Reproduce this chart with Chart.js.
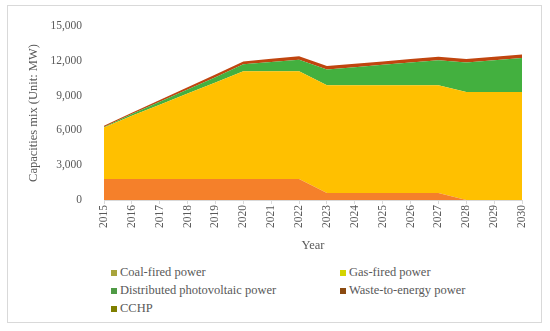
<!DOCTYPE html>
<html>
<head>
<meta charset="utf-8">
<script src="https://cdn.jsdelivr.net/npm/chart.js@4/dist/chart.umd.min.js"></script>
<style>
  html, body { margin: 0; padding: 0; background: #fff; }
  body { width: 550px; height: 331px; position: relative; overflow: hidden; font-family: "Liberation Serif", serif; }
  .frame { position: absolute; left: 7px; top: 5px; width: 533px; height: 316px; border: 1px solid #d9d9d9; }
  #wrap { position: absolute; left: 0; top: 0; width: 550px; height: 260px; }
  #legend { position: absolute; left: 111px; top: 265px; width: 420px; display: grid;
    grid-template-columns: 229px 190px; row-gap: 3px; font-size: 12.5px; color: #595959; }
  #legend div { display: flex; align-items: center; height: 15px; white-space: nowrap; }
  #legend span.box { width: 6px; height: 6px; margin-right: 3px; display: inline-block; }
</style>
</head>
<body>
<div class="frame"></div>
<div id="wrap"><canvas id="chart"></canvas></div>
<div id="legend"></div>
<script>
  // Data (MW)
  const years = ['2015','2016','2017','2018','2019','2020','2021','2022','2023','2024','2025','2026','2027','2028','2029','2030'];
  const coal  = [1800,1800,1800,1800,1800,1800,1800,1800,600,600,600,600,600,0,0,0];
  const gas   = [4450,5460,6420,7380,8340,9300,9300,9300,9300,9300,9300,9300,9300,9300,9300,9300];
  const pv    = [50,150,250,350,450,600,800,1000,1350,1550,1750,1950,2150,2550,2750,2950];
  const waste = [100,120,150,180,220,250,280,300,300,300,300,300,300,300,300,300];
  const cchp  = [0,0,0,0,0,0,0,0,0,0,0,0,0,0,0,0];
  const seriesNames = ['Coal-fired power','Gas-fired power','Distributed photovoltaic power','Waste-to-energy power','CCHP'];
  const fillColors  = ['#f5802a','#ffc000','#43b03f','#c0450f','#7f7f00'];
  const legendColors = ['#a8a43c','#d4d400','#4f9a45','#8b4a10','#7f7f00'];
  const yTicks = [0,3000,6000,9000,12000,15000];

  const values = [coal, gas, pv, waste, cchp];
  const datasets = values.map((d, i) => ({
    label: seriesNames[i],
    data: d,
    backgroundColor: fillColors[i],
    borderWidth: 0,
    pointRadius: 0,
    fill: i === 0 ? 'origin' : '-1',
    tension: 0
  }));

  const font = { family: '"Liberation Serif", serif', size: 11.5 };

  new Chart(document.getElementById('chart'), {
    type: 'line',
    data: { labels: years, datasets },
    options: {
      responsive: true,
      maintainAspectRatio: false,
      animation: false,
      layout: { padding: { left: 7, right: 28, top: 26, bottom: 4 } },
      plugins: { legend: { display: false }, tooltip: { enabled: false } },
      scales: {
        x: {
          offset: false,
          grid: { drawOnChartArea: false, color: '#d9d9d9', tickLength: 4 },
          border: { display: true, color: '#d9d9d9' },
          ticks: { color: '#595959', font, minRotation: 90, maxRotation: 90, padding: 1, autoSkip: false },
          title: { display: true, text: 'Year', color: '#595959', font: { family: font.family, size: 12.5 }, padding: { top: 0, bottom: 3 } },
          afterFit: s => { s.height = 56; }
        },
        y: {
          stacked: true,
          min: 0, max: 15000,
          afterBuildTicks: s => { s.ticks = yTicks.map(v => ({ value: v })); },
          grid: { display: false },
          border: { display: false },
          ticks: { color: '#595959', font, padding: 14, callback: v => v.toLocaleString('en-US') },
          title: { display: true, text: 'Capacities mix (Unit: MW)', color: '#595959', font: { family: font.family, size: 12.5 }, padding: { top: 19, bottom: 0 } },
          afterFit: s => { s.width = 97; }
        }
      }
    }
  });

  // HTML legend, two columns
  const legend = document.getElementById('legend');
  seriesNames.forEach((name, i) => {
    const item = document.createElement('div');
    item.innerHTML = '<span class="box" style="background:' + legendColors[i] + '"></span>' + name;
    legend.appendChild(item);
  });
</script>
</body>
</html>
